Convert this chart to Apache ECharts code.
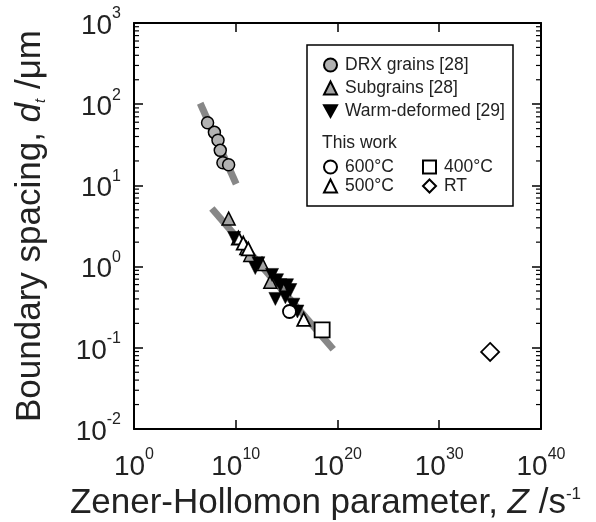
<!DOCTYPE html>
<html><head><meta charset="utf-8">
<script src="https://cdn.jsdelivr.net/npm/echarts@6/dist/echarts.min.js"></script>
<style>html,body{margin:0;padding:0;background:#fff}#c{width:596px;height:522px}</style>
</head><body><div id="c"></div>
<script>
// ---- data (Z in s^-1, d in µm) ----
const drxZ  = [1.7e7, 8e7, 1.8e8, 3e8, 5.5e8, 2e9];
const drxD  = [59, 45, 36, 27, 19, 18];
const subZ  = [2e9, 1.1e11, 2.7e11, 3.8e12, 2.5e13];
const subD  = [3.9, 1.7, 1.39, 1.08, 0.65];
const warmZ = [7e9, 8.3e11, 1.7e12, 3.7e13, 1.15e14, 2.4e14, 1.1e15, 2.3e15, 7.8e13, 7.5e14, 4.6e15, 1.15e16];
const warmD = [2.25, 0.96, 1.1, 0.79, 0.68, 0.59, 0.59, 0.515, 0.40, 0.42, 0.34, 0.28];
const t600Z = [1.9e15];  const t600D = [0.28];
const t500Z = [1.8e10, 5.5e10, 1.7e11, 4.8e16]; const t500D = [2.25, 1.95, 1.65, 0.224];
const t400Z = [3.1e18];  const t400D = [0.166];
const rtZ   = [1e35];    const rtD   = [0.089];
const fit1Z = [3.2e6, 1.1e10]; const fit1D = [102.6, 10.4];
const fit2Z = [4.5e7, 3.8e19]; const fit2D = [5.2, 0.096];
const xTickExp = [0, 10, 20, 30, 40];
const yTickExp = [-2, -1, 0, 1, 2, 3];

const SANS = "'Liberation Sans',Arial,Helvetica,sans-serif";
const pairs = (xs, ys) => xs.map((x, i) => [x, ys[i]]);
const xMin = Math.pow(10, xTickExp[0]), xMax = Math.pow(10, xTickExp[xTickExp.length - 1]);
const yMin = Math.pow(10, yTickExp[0]), yMax = Math.pow(10, yTickExp[yTickExp.length - 1]);
const minorVals = [];
for (let e = yTickExp[0]; e < yTickExp[yTickExp.length - 1]; e++) for (let m = 2; m <= 9; m++) minorVals.push([xMin, m * Math.pow(10, e)]);

const tickRich = {
  a: { fontSize: 28, fontFamily: SANS, color: '#222', verticalAlign: 'bottom', padding: [6, 0, 0, 0] },
  b: { fontSize: 16, fontFamily: SANS, color: '#222', verticalAlign: 'top' }
};
const expFmt = v => '{a|10}{b|' + Math.round(Math.log10(v)) + '}';
const axisCommon = {
  type: 'log', logBase: 10,
  axisLine: { show: true, lineStyle: { color: '#000', width: 2 } },
  axisTick: { show: true, inside: true, length: 9, lineStyle: { color: '#000', width: 1.5 } },
  minorTick: { show: false },
  splitLine: { show: false }
};
const downTri = 'path://M0,0 L10,0 L5,9 Z';

const B = 1.5;
const legText = { fontSize: 17.5, fontFamily: SANS, color: '#222', padding: [0, 0, 0, 3] };
const chart = echarts.init(document.getElementById('c'));
chart.setOption({
  animation: false,
  backgroundColor: '#fff',
  grid: { left: 134, top: 23, right: 55, bottom: 93, containLabel: false, outerBoundsMode: 'none' },
  xAxis: [
    Object.assign({}, axisCommon, {
      position: 'bottom', min: xMin, max: xMax, splitNumber: 4,
      axisLabel: { margin: 18, formatter: expFmt, rich: tickRich },
      name: 'Zener-Hollomon parameter, {i|Z} /s{s|-1}', nameLocation: 'middle', nameGap: 54,
      nameTextStyle: { fontSize: 35, fontFamily: SANS, color: '#222', padding: [0, 24, 0, 0],
        rich: { i: { fontSize: 35, fontStyle: 'italic', fontFamily: SANS, color: '#222' },
                s: { fontSize: 17, fontFamily: SANS, color: '#222', verticalAlign: 'top' } } }
    }),
    Object.assign({}, axisCommon, {
      position: 'top', min: xMin, max: xMax, splitNumber: 4, axisLabel: { show: false }
    })
  ],
  yAxis: [
    Object.assign({}, axisCommon, {
      position: 'left', min: yMin, max: yMax, splitNumber: 5,
      axisLabel: { margin: 13, formatter: expFmt, rich: tickRich },
      name: 'Boundary spacing, {i|d}{t|t} /μm', nameLocation: 'middle', nameGap: 86, nameRotate: 90,
      nameTextStyle: { fontSize: 35, fontFamily: SANS, color: '#222',
        rich: { i: { fontSize: 35, fontStyle: 'italic', fontFamily: SANS, color: '#222' },
                t: { fontSize: 15, fontStyle: 'italic', fontFamily: SANS, color: '#222', verticalAlign: 'bottom' } } }
    }),
    Object.assign({}, axisCommon, {
      position: 'right', min: yMin, max: yMax, splitNumber: 5, axisLabel: { show: false }
    })
  ],
  legend: [
    { data: ['DRX grains [28]', 'Subgrains [28]', { name: 'Warm-deformed [29]', icon: downTri }],
      orient: 'vertical', left: 323, top: 56,
      padding: 0, itemWidth: 13, itemHeight: 13, itemGap: 5, selectedMode: false, textStyle: legText },
    { data: ['600°C', '500°C'], orient: 'vertical', left: 323, top: 158,
      padding: 0, itemWidth: 13, itemHeight: 13, itemGap: 1, selectedMode: false, textStyle: legText },
    { data: ['400°C', 'RT'], orient: 'vertical', left: 422, top: 158,
      padding: 0, itemWidth: 13, itemHeight: 13, itemGap: 1, selectedMode: false, textStyle: legText }
  ],
  graphic: [
    { type: 'rect', z: 3, shape: { x: 307, y: 45, width: 206, height: 161 },
      style: { fill: '#fff', stroke: '#000', lineWidth: 1.5 } },
    { type: 'text', z: 5, x: 322, y: 143,
      style: { text: 'This work', fontSize: 17.5, fontFamily: SANS, fill: '#222', verticalAlign: 'middle' } }
  ],
  series: [
    { type: 'line', data: pairs(fit1Z, fit1D), symbol: 'none', z: 1, silent: true,
      lineStyle: { color: '#878787', width: 7, cap: 'butt' } },
    { type: 'line', data: pairs(fit2Z, fit2D), symbol: 'none', z: 1, silent: true,
      lineStyle: { color: '#878787', width: 7, cap: 'butt' } },
    { name: 'DRX grains [28]', type: 'scatter', data: pairs(drxZ, drxD), symbol: 'circle', symbolSize: 12,
      itemStyle: { color: '#b2b2b2', borderColor: '#000', borderWidth: B, opacity: 1 } },
    { name: 'Subgrains [28]', type: 'scatter', data: pairs(subZ, subD), symbol: 'triangle', symbolSize: 13,
      itemStyle: { color: '#a3a3a3', borderColor: '#000', borderWidth: B, opacity: 1 } },
    { name: '500°C', type: 'scatter', data: pairs(t500Z, t500D), symbol: 'triangle', symbolSize: 13,
      itemStyle: { color: '#fff', borderColor: '#000', borderWidth: B + 0.3, opacity: 1 } },
    { name: 'Warm-deformed [29]', type: 'scatter', data: pairs(warmZ, warmD), symbol: 'triangle', symbolRotate: 180, symbolSize: 13,
      itemStyle: { color: '#000', borderColor: '#000', borderWidth: 0.5, opacity: 1 } },
    { name: '600°C', type: 'scatter', data: pairs(t600Z, t600D), symbol: 'circle', symbolSize: 13,
      itemStyle: { color: '#fff', borderColor: '#000', borderWidth: B + 0.3, opacity: 1 } },
    { name: '400°C', type: 'scatter', data: pairs(t400Z, t400D), symbol: 'rect', symbolSize: 15,
      itemStyle: { color: '#fff', borderColor: '#000', borderWidth: B + 0.3, opacity: 1 } },
    { name: 'RT', type: 'scatter', data: pairs(rtZ, rtD), symbol: 'diamond', symbolSize: 18,
      itemStyle: { color: '#fff', borderColor: '#000', borderWidth: B + 0.3, opacity: 1 } },
    { type: 'custom', silent: true, clip: false, z: 3, data: minorVals, encode: { x: 0, y: 1 },
      renderItem: function (params, api) {
        const y = api.value(1);
        const pL = api.coord([xMin, y]);
        const pR = api.coord([xMax, y]);
        const st = { stroke: '#000', lineWidth: 1.2 };
        return { type: 'group', children: [
          { type: 'line', shape: { x1: pL[0], y1: pL[1], x2: pL[0] + 5, y2: pL[1] }, style: st },
          { type: 'line', shape: { x1: pR[0], y1: pR[1], x2: pR[0] - 5, y2: pR[1] }, style: st }
        ] };
      } }
  ]
});
</script></body></html>
